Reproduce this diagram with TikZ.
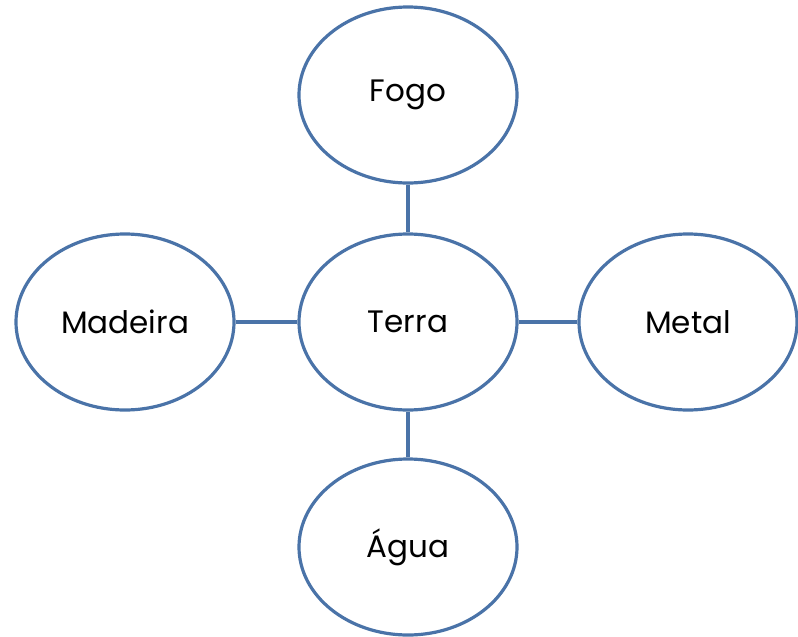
\documentclass[tikz,border=0pt]{standalone}
\usepackage{fontspec}
\setmainfont{Poppins}
\usetikzlibrary{shapes.geometric}
\definecolor{RingClr}{rgb}{0.29,0.45,0.66}

\begin{document}
\begin{tikzpicture}[x=1pt,y=-1pt,
  elem/.style={ellipse,draw=RingClr,line width=3.2pt,minimum width=218pt,minimum height=176pt,
    inner sep=0pt,font=\fontsize{31}{36}\selectfont},
  link/.style={draw=RingClr,line width=3.2pt}]
\useasboundingbox (0,0) rectangle (798,637);

\node[elem] (terra)   at (408,322) {Terra};
\node[elem] (fogo)    at (408,95)  {Fogo};
\node[elem] (madeira) at (125,322) {Madeira};
\node[elem] (metal)   at (688,322) {Metal};
\node[elem] (agua)    at (408,547) {Água};

\draw[link] (fogo) -- (terra);
\draw[link] (madeira) -- (terra);
\draw[link] (metal) -- (terra);
\draw[link] (agua) -- (terra);

\end{tikzpicture}
\end{document}
